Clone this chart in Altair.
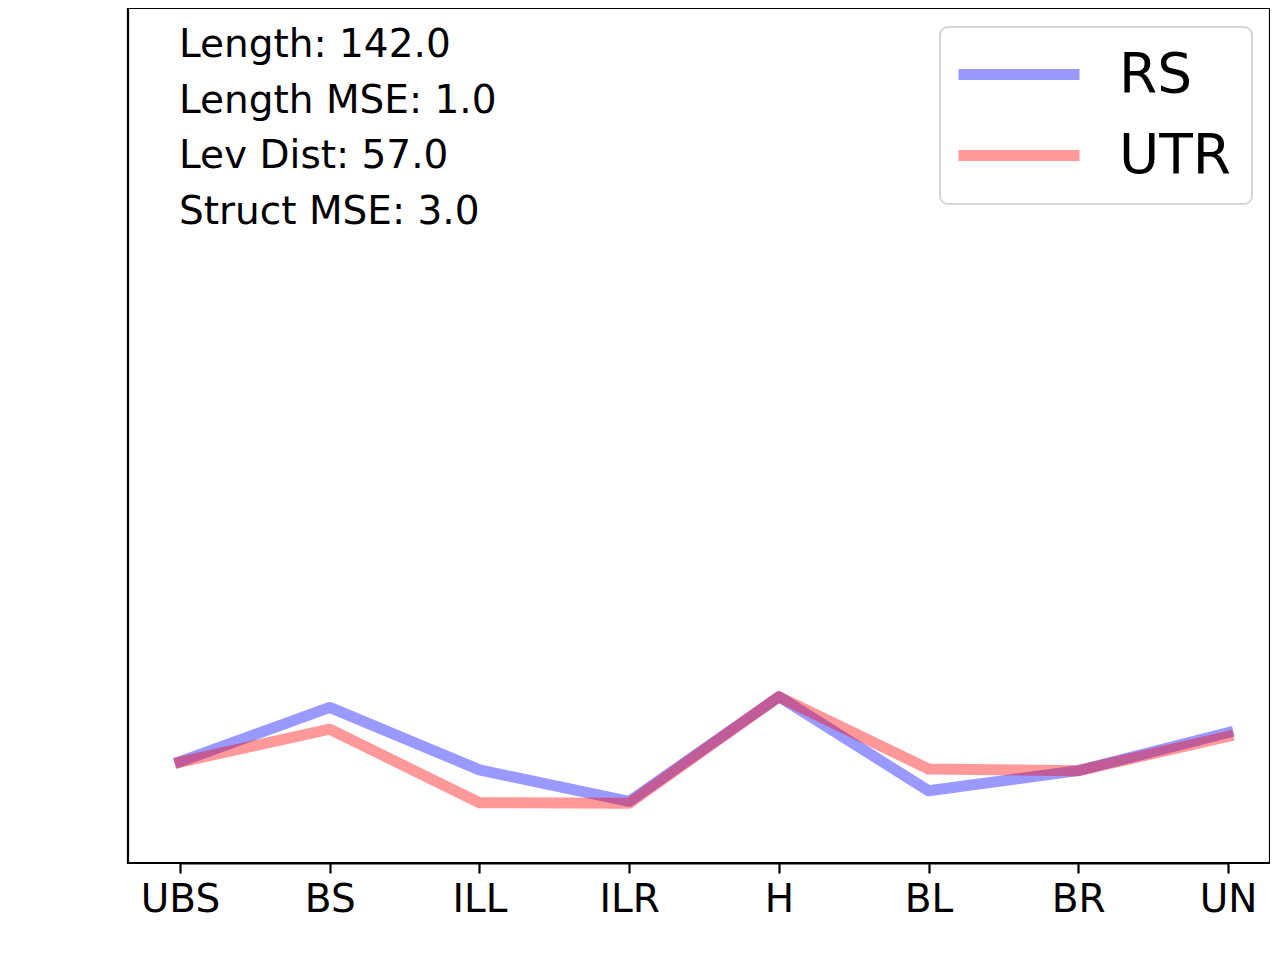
import altair as alt
import pandas as pd

categories = ["UBS", "BS", "ILL", "ILR", "H", "BL", "BR", "UN"]
rs_values = [11.85, 18.2, 10.9, 7.2, 19.45, 8.45, 10.8, 15.25]
utr_values = [11.8, 15.65, 7.05, 7.0, 19.45, 11.0, 10.8, 14.8]
series_names = ["RS", "UTR"]
series_colors = ["blue", "red"]
annotation_lines = ["Length: 142.0", "Length MSE: 1.0", "Lev Dist: 57.0", "Struct MSE: 3.0"]

rows = []
for name, vals in zip(series_names, [rs_values, utr_values]):
    for i, (c, v) in enumerate(zip(categories, vals)):
        rows.append({"cat": c, "series": name, "value": v, "order": i})
df = pd.DataFrame(rows)

lines = alt.Chart(df).mark_line(
    strokeWidth=11, opacity=0.4, strokeJoin="round", strokeCap="square"
).encode(
    x=alt.X("cat:N", sort=categories,
            scale=alt.Scale(type="point", padding=0, range=[52, 1100]),
            axis=alt.Axis(title=None, labelAngle=0)),
    y=alt.Y("value:Q", scale=alt.Scale(domain=[0, 100], nice=False), axis=None),
    color=alt.Color("series:N",
                    scale=alt.Scale(domain=series_names, range=series_colors),
                    legend=alt.Legend(
                        orient="none", legendX=812, legendY=19, title=None,
                        symbolType="M-6,0H6", symbolSize=407, symbolStrokeWidth=11,
                        symbolOpacity=0.4, symbolOffset=31.5,
                        labelFontSize=55, labelFont="DejaVu Sans",
                        labelColor="black", labelOffset=72.5, padding=20,
                        strokeColor="#d6d6d6", cornerRadius=8, fillColor="white",
                        rowPadding=25)),
    order="order:Q",
)

ann = alt.Chart(pd.DataFrame({"t": [0]})).mark_text(
    text=annotation_lines, align="left", baseline="alphabetic",
    fontSize=39, font="DejaVu Sans", lineHeight=55.5, color="black"
).encode(x=alt.value(51), y=alt.value(49))

chart = alt.layer(lines, ann).properties(
    width=1142, height=855,
    padding={"left": 120, "top": 0, "right": 0, "bottom": 10},
).configure_view(
    stroke="black", strokeWidth=2.2
).configure_axis(
    domainColor="black", domainWidth=2.2, tickColor="black", tickWidth=2.2,
    tickSize=10, labelFont="DejaVu Sans", labelFontSize=39, labelColor="black",
    labelPadding=7, grid=False
).configure_legend(strokeWidth=2)

chart.save("out.html", embed_options={"renderer": "svg", "actions": False})
